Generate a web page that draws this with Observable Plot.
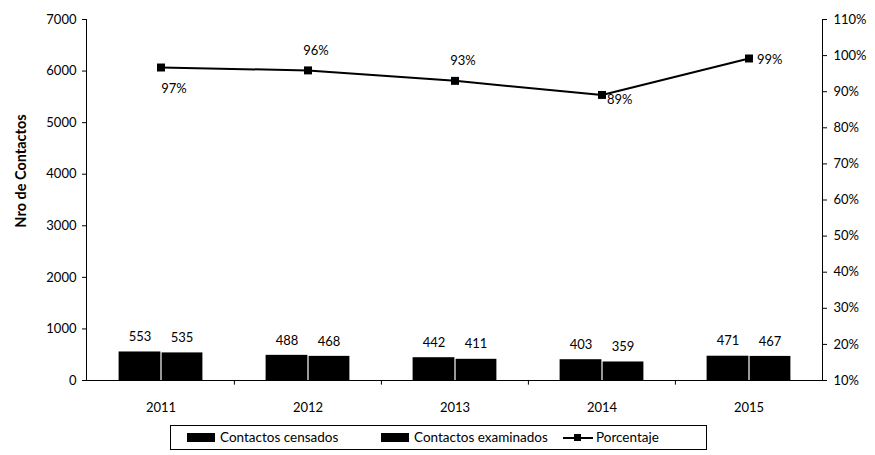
<!DOCTYPE html>
<html>
<head>
<meta charset="utf-8">
<script src="https://cdn.jsdelivr.net/npm/d3@7"></script>
<script src="https://cdn.jsdelivr.net/npm/@observablehq/plot@0.6"></script>
<style>
  body { margin: 0; background: white; font-family: Lato, "Open Sans", sans-serif; }
  #wrap { position: relative; width: 875px; height: 455px; }
  #legend { position: absolute; left: 170px; top: 425px; width: 537px; height: 25px;
            border: 1.5px solid black; box-sizing: border-box; font-size: 13.5px; color: black; }
  .item { position: absolute; top: 3px; display: flex; align-items: center; white-space: nowrap; }
  .sw { display: inline-block; width: 28px; height: 9px; background: black; margin-right: 5px; }
  .ln { position: relative; display: inline-block; width: 30px; height: 9px; margin-right: 3px; }
  .ln::before { content: ""; position: absolute; left: 0; right: 0; top: 4px; height: 2px; background: black; }
  .ln::after { content: ""; position: absolute; left: 11px; top: 1px; width: 7px; height: 7px; background: black; }
</style>
</head>
<body>
<div id="wrap">
  <div id="chart"></div>
  <div id="legend"></div>
</div>
<script>
const years = ["2011", "2012", "2013", "2014", "2015"];
const censados = [553, 488, 442, 403, 471];
const examinados = [535, 468, 411, 359, 467];
const porcentaje = [96.7, 95.9, 93.0, 89.1, 99.2];
const pctLabels = ["97%", "96%", "93%", "89%", "99%"];
const leftTicks = [0, 1000, 2000, 3000, 4000, 5000, 6000, 7000];
const rightTicks = [10, 20, 30, 40, 50, 60, 70, 80, 90, 100, 110];
const legendLabels = ["Contactos censados", "Contactos examinados", "Porcentaje"];

const W = 875, H = 420;
const mL = 86, mR = 53, mT = 19, mB = 40;
const bandW = (W - mL - mR) / years.length;
const barW = 42;
const FS = 13;

// map percent to left-axis units (10% -> 0, 110% -> 7000)
const pToY = p => (p - 10) * 70;

const data = years.map((y, i) => ({
  year: y, censados: censados[i], examinados: examinados[i],
  pct: porcentaje[i], pctY: pToY(porcentaje[i]), label: pctLabels[i]
}));

const sel = ys => data.filter(d => ys.includes(d.year));

const chart = Plot.plot({
  width: W, height: H,
  marginLeft: mL, marginRight: mR, marginTop: mT, marginBottom: mB,
  style: { fontFamily: "Lato, 'Open Sans', sans-serif", fontSize: FS + "px", color: "black", background: "white" },
  x: { type: "band", domain: years, padding: 0, label: null },
  y: { domain: [0, 7000], label: null },
  marks: [
    Plot.axisY(leftTicks, { anchor: "left", tickSize: 4, tickPadding: 6, label: null,
      tickFormat: d => String(d), fontSize: FS }),
    Plot.axisY(rightTicks.map(pToY), { anchor: "right", tickSize: 4, tickPadding: 7, label: null,
      tickFormat: v => Math.round(v / 70 + 10) + "%", fontSize: FS }),
    Plot.axisX({ tickSize: 0, tickPadding: 22, label: null, fontSize: FS }),
    Plot.ruleX(years.slice(1), { x: d => d, dx: -bandW / 2, y1: 0, y2: -90, stroke: "black" }),
    Plot.frame({ anchor: "left", stroke: "black" }),
    Plot.frame({ anchor: "right", stroke: "black" }),
    Plot.ruleY([0], { stroke: "black" }),
    Plot.barY(data, { x: "year", y: "censados", fill: "black",
      insetLeft: bandW / 2 - barW, insetRight: bandW / 2 }),
    Plot.barY(data, { x: "year", y: "examinados", fill: "black",
      insetLeft: bandW / 2 + 1, insetRight: bandW / 2 - barW }),
    Plot.text(data, { x: "year", y: "censados", text: d => String(d.censados),
      dx: -barW / 2, dy: -15, fontSize: FS, fill: "black" }),
    Plot.text(data, { x: "year", y: "examinados", text: d => String(d.examinados),
      dx: barW / 2, dy: -15, fontSize: FS, fill: "black" }),
    Plot.line(data, { x: "year", y: "pctY", stroke: "black", strokeWidth: 2 }),
    Plot.dot(data, { x: "year", y: "pctY", symbol: "square", r: 4.5, fill: "black" }),
    Plot.text(sel(["2011"]), { x: "year", y: "pctY", text: "label", dx: 13, dy: 21, fontSize: FS }),
    Plot.text(sel(["2012", "2013"]), { x: "year", y: "pctY", text: "label", dx: 8, dy: -20, fontSize: FS }),
    Plot.text(sel(["2014"]), { x: "year", y: "pctY", text: "label", textAnchor: "start", dx: 5, dy: 5, fontSize: FS }),
    Plot.text(sel(["2015"]), { x: "year", y: "pctY", text: "label", textAnchor: "start", dx: 8, dy: 1, fontSize: FS }),
    Plot.text(["Nro de Contactos"], { frameAnchor: "left", textAnchor: "middle", rotate: -90,
      dx: -65, dy: -29, fontWeight: "bold", fontSize: 14.5 })
  ]
});
document.getElementById("chart").appendChild(chart);

const legend = document.getElementById("legend");
const pos = [16, 210, 392];
legendLabels.forEach((lab, i) => {
  const it = document.createElement("div");
  it.className = "item";
  it.style.left = pos[i] + "px";
  const sw = document.createElement("span");
  sw.className = i < 2 ? "sw" : "ln";
  it.appendChild(sw);
  const t = document.createElement("span");
  t.textContent = lab;
  it.appendChild(t);
  legend.appendChild(it);
});
</script>
</body>
</html>
